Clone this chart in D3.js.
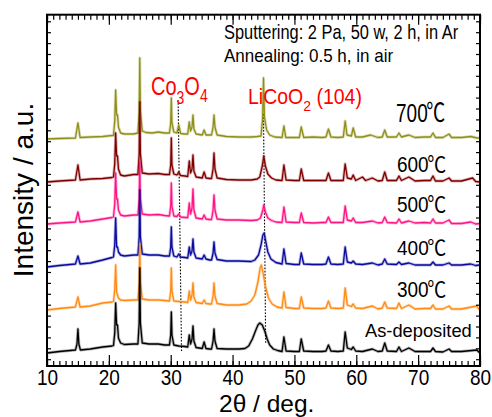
<!DOCTYPE html>
<html><head><meta charset="utf-8">
<script src="https://cdn.jsdelivr.net/npm/d3@7"></script>
<style>
body{margin:0;background:#fff}
svg{display:block}
text{font-family:"Liberation Sans",Arial,Helvetica,sans-serif}
</style>
</head><body>
<svg id="chart" width="492" height="417"></svg>
<script>
// ---------- data (2θ in degrees, intensity in arbitrary units) ----------
const seriesNames = ["As-deposited", "300", "400", "500", "600", "700"];
const seriesOffsets = [13, 56, 99, 142, 184, 227];
const xMajorTicks = [10, 20, 30, 40, 50, 60, 70, 80];
const xTickLabels = ["10", "20", "30", "40", "50", "60", "70", "80"];

const dAsDep = [[10,0],[12,1.5],[14.6,3],[14.85,9],[15,24],[15.15,9],[15.4,3],[17,4],[19,6],[20.5,7],
 [20.75,7.5],[20.95,20],[21.1,50],[21.25,28],[21.4,28],[21.55,15],[21.9,10],[22.5,8.5],[24,9],
 [24.7,9],[24.9,30],[25,85],[25.1,30],[25.4,10],[26.5,9],[28,9],[29,8],
 [29.8,8],[30,18],[30.1,41],[30.2,18],[30.5,8],[31.3,7],[32.3,6.5],
 [32.75,6],[33,18],[33.2,9],[33.45,14],[33.6,27],[33.75,12],[34.1,5.5],
 [35.1,4.5],[35.4,11],[35.7,4.5],[36.3,4],[36.6,4],[36.85,12],[37,24],[37.15,12],[37.5,4.5],
 [39,4],[41,4],[42,4.5],[42.6,7],[43.2,14],[43.7,22],[44.1,28],[44.4,30],[44.8,28],[45.2,22],[45.6,14],[46,8],[46.6,4],[47.3,2.5],
 [48,1.5],[48.3,16],[48.65,2],[50,1.5],[50.8,1.5],[51.1,14],[51.5,2],[53,1.5],[54.5,1.5],
 [55.1,2],[55.5,8],[55.9,2],[57,1.5],[57.9,2],[58.2,21],[58.55,5],[59.2,3.5],[59.5,6],[59.9,2],
 [61,1.5],[62.6,4],[63.5,1.5],[64.2,2],[64.6,10],[65,2],[66.5,1.5],[66.9,6],[67.3,1.5],[68.5,5],[69.5,1.5],[71,1.5],
 [72,1.5],[72.4,5],[72.8,1.5],[74,1],[75,4],[75.4,1.5],[77,1.5],[79.5,3],[79.8,1],[80,1]];

const d300 = [[10,0],[12,1.5],[14.6,3],[15,13],[15.35,3],[17,4],[19,7],[20.5,8],
 [20.75,8.5],[20.95,20],[21.1,45],[21.25,18],[21.4,15],[21.55,12],[21.9,10],[22.5,9.5],[24,10],
 [24.7,10],[24.9,27],[25,66],[25.1,27],[25.4,11],[26.5,10],[28,10],[29,9.5],
 [29.8,9],[30,19],[30.1,42],[30.2,19],[30.5,9],[31.3,8.5],[32.3,8],
 [32.75,7.5],[33,19],[33.2,10],[33.45,15],[33.6,27],[33.75,13],[34.1,7.5],
 [35.1,6.5],[35.4,10],[35.7,6.5],[36.3,6],[36.6,6],[36.85,14],[37,27],[37.15,14],[37.5,6.5],
 [39,5],[41,5],[42.3,6],[43,9],[43.6,15],[44.1,28],[44.45,42],[44.65,45],[44.9,38],[45.3,24],[45.8,12],[46.4,6],[47.2,3],
 [48,2],[48.3,18],[48.65,2.5],[50,1.5],[50.8,1.5],[51.1,13],[51.5,2],[53,1.5],[54.5,1.5],
 [55.1,2],[55.5,9],[55.9,2],[57,1.5],[57.9,2],[58.2,22],[58.55,5],[59.2,3.5],[59.5,6],[59.9,2],
 [61,1.5],[62.6,4],[63.5,1],[64.2,2],[64.6,8],[65,2],[66.5,1.5],[66.9,7],[67.3,1.5],[68.5,5],[69.5,1],[71,1.5],
 [72,1.5],[72.4,5],[72.8,1],[74,1],[75,4],[75.4,1],[77,1],[79.5,4],[79.8,1],[80,0.5]];

const d400 = [[10,0],[12,1.5],[14.6,3],[15,11],[15.35,3],[17,4],[19,7],[20.5,9.5],
 [20.75,10],[20.95,22],[21.1,49],[21.25,20],[21.4,20],[21.55,15],[21.9,12],[22.5,11],[24,12],
 [24.7,12],[24.9,30],[25,77],[25.1,30],[25.4,13],[26.5,12],[28,12],[29,11],
 [29.8,11],[30,20],[30.1,40],[30.2,20],[30.5,11],[31,10],[31.3,13],[31.6,10],[32.3,9.5],
 [32.75,9],[33,20],[33.2,12],[33.45,16],[33.6,28],[33.75,15],[34.1,9],
 [35.1,8],[35.4,12],[35.7,8],[36.3,7],[36.6,7],[36.85,14],[37,25],[37.15,14],[37.5,7.5],
 [39,6],[41,6],[43,5.5],[43.6,7],[44.2,12],[44.6,22],[44.9,32],[45.1,34],[45.35,26],[45.7,15],[46.2,8],[47,4.5],
 [48,3],[48.3,18],[48.65,3.5],[50,2.5],[50.8,2.5],[51.1,14],[51.5,3],[53,2.5],[54.5,2.5],
 [55.1,3],[55.5,10],[55.9,3],[57,2.5],[57.9,3],[58.2,20],[58.55,5],[59.2,4],[59.5,6],[59.9,3],
 [61,2.5],[62.6,4],[63.5,2],[64.2,3],[64.6,8],[65,3],[66.5,2.5],[66.9,5],[67.3,2.5],[68.5,4],[69.5,2],[71,2],
 [72,2],[72.4,5],[72.8,2],[74,2],[75,4],[75.4,2],[77,2],[78.5,3],[79.3,1.5],[80,2]];

const d500 = [[10,0],[12,1],[14.6,2],[15,12],[15.35,2],[17,3],[19,5],[20.5,6.5],
 [20.75,7],[20.95,20],[21.1,51],[21.25,25],[21.4,25],[21.55,14],[21.9,9],[22.5,8],[24,9],
 [24.7,9],[24.9,25],[25,62],[25.1,25],[25.4,10],[26.5,9],[28,9.5],[29,8.5],
 [29.8,8],[30,18],[30.1,41],[30.2,18],[30.5,8],[31,7.5],[31.3,10],[31.6,7],[32.3,6.5],
 [32.75,6.5],[33,21],[33.2,10],[33.45,16],[33.6,35],[33.75,14],[34.1,6],
 [35.1,5],[35.4,9],[35.7,5],[36.3,4.5],[36.6,4.5],[36.85,14],[37,29],[37.15,14],[37.5,5],
 [39,4],[41,4],[43,3.5],[44,4],[44.5,6],[44.85,13],[45.05,19],[45.3,12],[45.7,6],[46.3,3.5],[47,2],
 [48,1.5],[48.3,17],[48.65,2],[50,1.5],[50.8,1.5],[51.1,11],[51.5,1.5],[53,1],[54.5,1.5],
 [55.1,1.5],[55.5,7],[55.9,1.5],[57,1.5],[57.9,1.5],[58.2,18],[58.55,4],[59.2,3],[59.5,6],[59.9,1.5],
 [61,1.5],[62.6,3],[63.5,1],[64.2,1.5],[64.6,7],[65,1.5],[66.5,1],[66.9,5],[67.3,1],[68.5,3],[69.5,1],[71,1.5],
 [72,1],[72.4,5],[72.8,1],[74,1],[75,4],[75.4,0.5],[77,0.5],[78.5,2],[79.3,0],[80,0.5]];

const d600 = [[10,0],[12,1],[14.6,2],[15,17],[15.35,2],[17,3],[19,3.5],[20.5,4.5],
 [20.75,5],[20.95,18],[21.1,49],[21.25,26],[21.4,26],[21.55,13],[21.9,7],[22.5,6],[24,7.5],
 [24.7,7.5],[24.9,28],[25,80],[25.1,28],[25.4,9],[26.5,8],[28,8.5],[29,7.5],
 [29.8,7.5],[30,17],[30.1,44],[30.2,17],[30.5,8],[31,7],[31.3,10],[31.6,6.5],[32.3,6],
 [32.75,5.5],[33,21],[33.2,9],[33.45,13],[33.6,27],[33.75,11],[34.1,5],
 [35.1,4],[35.4,10],[35.7,4],[36.3,3.5],[36.6,3.5],[36.85,13],[37,29],[37.15,13],[37.5,4],
 [39,2.5],[41,2],[43,2],[44,3],[44.4,5],[44.8,16],[45.05,26],[45.3,16],[45.7,8],[46.3,4],[47,2],
 [48,1.5],[48.3,17],[48.65,2],[50,1.5],[50.8,1.5],[51.1,13],[51.5,1.5],[53,1.5],[54.5,1.5],
 [55.1,1.5],[55.5,9],[55.9,1.5],[57,1.5],[57.9,1.5],[58.2,18],[58.55,4],[59.2,3],[59.5,7],[59.9,1.5],
 [61,5],[61.5,1.5],[62.6,4],[63.5,1],[64.2,1.5],[64.6,10],[65,1.5],[66.5,1.5],[66.9,6],[67.3,1.5],[68.5,5],[69.5,1],[71,1.5],
 [72,1.5],[72.4,6],[72.8,1],[74,1],[75,4],[75.4,1],[77,1],[78.8,4],[79.3,0.5],[80,0]];

const d700 = [[10,0],[12,0.5],[14.6,1],[15,16],[15.35,1.5],[17,2],[19,2.5],[20.5,3.5],
 [20.75,3.5],[20.95,18],[21.1,49],[21.25,24],[21.4,24],[21.55,12],[21.9,6],[22.5,5],[24,5],
 [24.7,6],[24.9,28],[25,81],[25.1,28],[25.4,8],[26,6.5],[27,6],[28,7],[29,6],
 [29.8,6],[30,16],[30.1,41],[30.2,16],[30.5,7],[31,6],[31.3,14],[31.6,5.5],[32.2,5],
 [32.75,5],[33,17],[33.2,8],[33.45,12],[33.6,24],[33.75,10],[34.1,5],
 [35.1,4],[35.4,9],[35.7,4],[36.3,4],[36.6,4],[36.85,12],[37,24],[37.15,12],[37.5,4],
 [39,2.5],[41,2],[43,2],[44,2.5],[44.6,3],[44.85,20],[45,61],[45.15,22],[45.5,9],[46,4],[46.8,2],
 [48,1.5],[48.3,13],[48.6,1.5],[50,1.5],[50.8,1.5],[51.1,12],[51.5,1.5],[53,2],[54.5,1.5],
 [55.1,2],[55.5,10],[55.9,2],[57,1.5],[57.9,2],[58.2,18],[58.5,4],[59.2,3],[59.5,11],[59.9,2],
 [61,2],[62.3,4],[63.5,1.5],[64.2,2],[64.6,9],[65,2],[66.5,2],[66.9,6],[67.3,2],[68.5,4],[69.5,1.5],[71,2],
 [72,2],[72.4,6],[72.8,1.5],[74,1.5],[75,5],[75.4,1.5],[77,1.5],[78.5,2.5],[79.5,1],[80,1]];

const seriesData = [dAsDep, d300, d400, d500, d600, d700];
// reference (dotted) lines: [2θ top, 2θ bottom, intensity top, intensity bottom]
const refCo3O4 = [31.2, 31.75, 266, 15];
const refLiCoO2 = [45.0, 45.35, 252, 23];

// ---------- styles / layout ----------
const colors = ["#000000", "#ff8a14", "#0a0a9e", "#ff1485", "#800000", "#8f8f1a"];
const M = {left: 47, right: 480, top: 14.7, bottom: 366};

const svg = d3.select("#chart");
const x = d3.scaleLinear().domain([10, 80]).range([M.left, M.right]);
const y = d3.scaleLinear().domain([0, M.bottom - M.top]).range([M.bottom, M.top]);

// dotted lines
[refCo3O4, refLiCoO2].forEach(r => {
  svg.append("line")
    .attr("x1", x(r[0])).attr("x2", x(r[1]))
    .attr("y1", y(r[2])).attr("y2", y(r[3]))
    .attr("stroke", "#000").attr("stroke-width", 1.1)
    .attr("stroke-dasharray", "1.6,1.6");
});

// traces: top series first, lower ones drawn on top
const line = d3.line().x(d => x(d[0]));
for (let i = seriesData.length - 1; i >= 0; i--) {
  const off = seriesOffsets[i];
  const pathD = line.y(d => y(d[1] + off))(seriesData[i]);
  svg.append("path").attr("d", pathD).attr("fill", "none")
    .attr("stroke", colors[i]).attr("stroke-opacity", 0.3).attr("stroke-width", 3)
    .attr("stroke-linejoin", "round");
  svg.append("path").attr("d", pathD).attr("fill", "none")
    .attr("stroke", colors[i]).attr("stroke-width", 1.3)
    .attr("stroke-linejoin", "round");
}

// axes
const minorX = d3.range(10, 81, 1);
const gB = svg.append("g").attr("transform", `translate(0,${M.bottom})`);
gB.call(d3.axisBottom(x).tickValues(minorX).tickSize(-5).tickFormat(""));
gB.append("g").call(d3.axisBottom(x).tickValues(xMajorTicks).tickSize(-11)
   .tickFormat((d, i) => xTickLabels[i]));
gB.selectAll(".domain").remove();
gB.selectAll("text").attr("y", 0).attr("dy", 0)
  .attr("transform", "translate(0,19) scale(1,1.15)")
  .attr("font-size", 19).attr("fill", "#000")
  .style("font-family", "'Liberation Sans', Arial, sans-serif");

const gT = svg.append("g").attr("transform", `translate(0,${M.top})`);
gT.call(d3.axisTop(x).tickValues(minorX).tickSize(-5).tickFormat(""));
gT.append("g").call(d3.axisTop(x).tickValues(xMajorTicks).tickSize(-10).tickFormat(""));
gT.selectAll(".domain").remove();

const yTicks = d3.range(6.8, M.bottom - M.top, 10.9);
const gL = svg.append("g").attr("transform", `translate(${M.left},0)`);
gL.call(d3.axisLeft(y).tickValues(yTicks).tickSize(-4).tickFormat(""));
gL.selectAll(".domain").remove();
const gR = svg.append("g").attr("transform", `translate(${M.right},0)`);
gR.call(d3.axisRight(y).tickValues(yTicks).tickSize(-4).tickFormat(""));
gR.selectAll(".domain").remove();
svg.selectAll(".tick line").attr("stroke", "#000").attr("stroke-width", 1.2);

svg.append("rect").attr("x", M.left).attr("y", M.top)
  .attr("width", M.right - M.left).attr("height", M.bottom - M.top)
  .attr("fill", "none").attr("stroke", "#000").attr("stroke-width", 2);

// helper for vertically stretched text
function label(xp, yp, sy, size, color, anchor) {
  return svg.append("g").attr("transform", `translate(${xp},${yp}) scale(1,${sy})`)
    .append("text").attr("font-size", size).attr("fill", color)
    .attr("text-anchor", anchor || "start");
}

// axis titles
svg.append("text").attr("transform", "translate(33,190) rotate(-90)")
  .attr("text-anchor", "middle").attr("font-size", 28).attr("fill", "#000")
  .text("Intensity / a.u.");
label(219, 411.5, 1.0, 24.5, "#000").text("2θ / deg.");

// condition notes
label(224, 39, 1.19, 16.4, "#000").text("Sputtering: 2 Pa, 50 w, 2 h, in Ar");
label(224, 61.7, 1.1, 17, "#000").text("Annealing: 0.5 h, in air");

// phase labels
const co = label(151, 95, 1.33, 20, "#ff0000");
co.append("tspan").text("Co");
co.append("tspan").attr("font-size", 14).attr("dy", 7).text("3");
co.append("tspan").attr("dy", -7).text("O");
co.append("tspan").attr("font-size", 14).attr("dy", 5).text("4");
const li = label(248, 104.3, 1.1, 19.5, "#ff0000");
li.append("tspan").text("LiCoO");
li.append("tspan").attr("font-size", 14).attr("dy", 6).text("2");
li.append("tspan").attr("dy", -6).text(" (104)");

// series labels
const tempPos = [[365, 336.7, 1.02], [397, 296.7, 1.12], [397, 255, 1.1], [397, 211.7, 1.14], [397, 171.7, 1.14], [396, 121.7, 1.35]];
seriesNames.forEach((n, i) => {
  const p = tempPos[i];
  const t = label(p[0], p[1], p[2], i === 0 ? 18.3 : 19, "#000");
  t.append("tspan").text(n);
  if (i > 0) t.append("tspan").style("font-family", "'Noto Sans CJK JP', 'DejaVu Sans', sans-serif").attr("dx", -1.5).text("℃");
});
</script>
</body></html>
